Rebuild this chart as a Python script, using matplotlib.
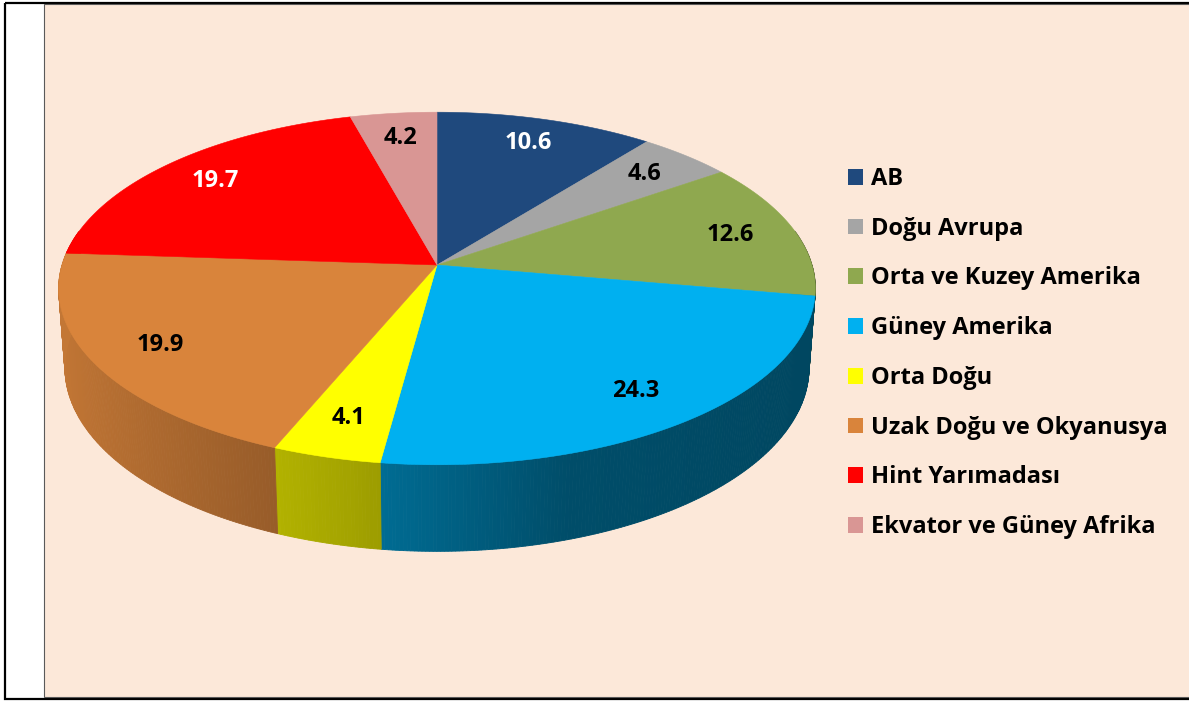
import numpy as np
import matplotlib.pyplot as plt
from matplotlib.patches import Polygon, Rectangle, Patch
from matplotlib.colors import to_rgb

regions = ['AB', 'Doğu Avrupa', 'Orta ve Kuzey Amerika', 'Güney Amerika',
           'Orta Doğu', 'Uzak Doğu ve Okyanusya', 'Hint Yarımadası',
           'Ekvator ve Güney Afrika']
shares = [10.6, 4.6, 12.6, 24.3, 4.1, 19.9, 19.7, 4.2]
colors = ['#1f497d', '#a5a5a5', '#8fa84f', '#00b0f0',
          '#ffff00', '#d9843b', '#ff0000', '#d99694']
label_colors = ['white', 'black', 'black', 'black',
                'black', 'black', 'white', 'black']

plt.rcParams['font.family'] = ['Open Sans', 'DejaVu Sans']

# simple perspective view of a tilted disc
cx, cy, R = 437, 265, 375
elev = np.radians(27.5)
D = 6.66
H = 0.24


def project(x, y, z):
    w = y * np.cos(elev) - z * np.sin(elev)
    s = D / (D + w)
    u = x * s
    v = (y * np.sin(elev) + z * np.cos(elev)) * s
    return cx + R * u, cy - R * v


def side_shade(c, u):
    f = np.interp(u, [-1, -0.2, 0.3, 1], [0.9, 0.64, 0.44, 0.4])
    return tuple(np.array(to_rgb(c)) * f)


fig = plt.figure(figsize=(11.89, 7.02), dpi=100)
ax = fig.add_axes([0, 0, 1, 1])
ax.set_xlim(0, 1189)
ax.set_ylim(702, 0)
ax.axis('off')

# frame and chart area
ax.add_patch(Rectangle((5, 3), 1200, 696, fill=False, edgecolor='black', lw=1.6, zorder=0))
ax.add_patch(Rectangle((44, 4), 1150, 693, facecolor='#fce8d9', edgecolor='#5a5a5a', lw=0.8, zorder=0))

fr = np.array(shares) / sum(shares)
edges = np.concatenate([[0], np.cumsum(fr)]) * 2 * np.pi

# side walls, drawn in thin strips so the shading changes across the front
for i in range(len(shares)):
    a0, a1 = edges[i], edges[i + 1]
    n = max(int(2 * np.degrees(a1 - a0)), 2)
    ts = np.linspace(a0, a1, n + 1)
    for t0, t1 in zip(ts[:-1], ts[1:]):
        tm = (t0 + t1) / 2
        if np.cos(tm) > 0.2:
            continue
        tt = np.array([t0, t1])
        xt, yt = project(np.sin(tt), np.cos(tt), 0)
        xb, yb = project(np.sin(tt[::-1]), np.cos(tt[::-1]), -H)
        col = side_shade(colors[i], np.sin(tm))
        ax.add_patch(Polygon(np.column_stack([np.r_[xt, xb], np.r_[yt, yb]]),
                             closed=True, facecolor=col, edgecolor=col, lw=0.6, zorder=2))

# top faces
for i in range(len(shares)):
    tt = np.linspace(edges[i], edges[i + 1], 120)
    xs, ys = project(np.sin(tt), np.cos(tt), 0)
    px, py = project(0, 0, 0)
    ax.add_patch(Polygon(np.column_stack([np.r_[px, xs], np.r_[py, ys]]),
                         closed=True, facecolor=colors[i], edgecolor=colors[i], lw=0.4, zorder=3))

# value labels
for i, val in enumerate(shares):
    tm = (edges[i] + edges[i + 1]) / 2
    lx, ly = project(0.82 * np.sin(tm), 0.82 * np.cos(tm), 0)
    ax.text(lx, ly, f'{val:.1f}', ha='center', va='center', fontsize=17,
            fontweight='bold', color=label_colors[i], zorder=5)

handles = [Patch(facecolor=c, edgecolor='none') for c in colors]
ax.legend(handles, regions, loc='upper left', bbox_to_anchor=(848 / 1189, 1 - 167 / 702),
          bbox_transform=fig.transFigure, frameon=False,
          prop={'size': 17, 'weight': 'bold'},
          handlelength=0.65, handleheight=0.65, handletextpad=0.33,
          labelspacing=1.09, borderpad=0, borderaxespad=0)

fig.savefig('out.png', dpi=100)
plt.close(fig)
